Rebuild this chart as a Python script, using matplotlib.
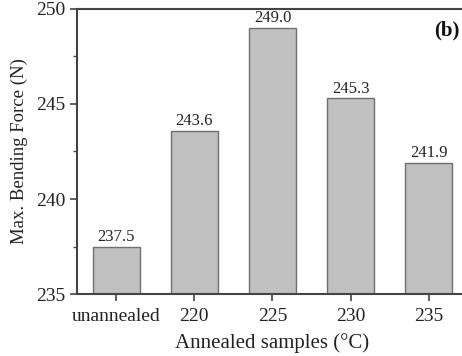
import matplotlib
matplotlib.use("Agg")
import matplotlib.pyplot as plt
from matplotlib.ticker import MultipleLocator

categories = ["unannealed", "220", "225", "230", "235"]
values = [237.5, 243.6, 249.0, 245.3, 241.9]
value_labels = ["237.5", "243.6", "249.0", "245.3", "241.9"]

plt.rcParams['font.family'] = ['Liberation Serif', 'DejaVu Serif']

fig = plt.figure(figsize=(4.62, 3.56), dpi=100)
ax = fig.add_axes([0.1667, 0.174, 0.846, 0.801])

x = list(range(len(categories)))
bars = ax.bar(x, values, width=0.6, color='#c0c0c0', edgecolor='#707070', linewidth=1.0, bottom=0)
ax.set_ylim(235, 250)
ax.set_xlim(-0.5, 4.5)
ax.set_xticks(x)
ax.set_xticklabels(categories)
ax.yaxis.set_major_locator(MultipleLocator(5))
ax.yaxis.set_minor_locator(MultipleLocator(2.5))

for xi, v, lab in zip(x, values, value_labels):
    ax.text(xi, v + 0.08, lab, ha='center', va='bottom', fontsize=12, color='#222222')

for s in ['left', 'bottom', 'top']:
    ax.spines[s].set_color('#444444')
    ax.spines[s].set_linewidth(1.5)
ax.spines['right'].set_visible(False)

ax.tick_params(axis='both', which='major', direction='out', length=5, width=1.2,
               color='#444444', labelsize=14, labelcolor='#222222')
ax.tick_params(axis='x', which='major', pad=5)
ax.tick_params(axis='y', which='minor', direction='out', length=3, width=1.0, color='#444444')

ax.set_ylabel("Max. Bending Force (N)", fontsize=13.5, color='#222222', labelpad=6)
ax.set_xlabel("Annealed samples (°C)", fontsize=15, color='#222222', labelpad=6)

fig.text(0.995, 0.915, "(b)", ha='right', va='center', fontsize=15, fontweight='bold', color='#111111')

fig.savefig("out.png", dpi=100)
